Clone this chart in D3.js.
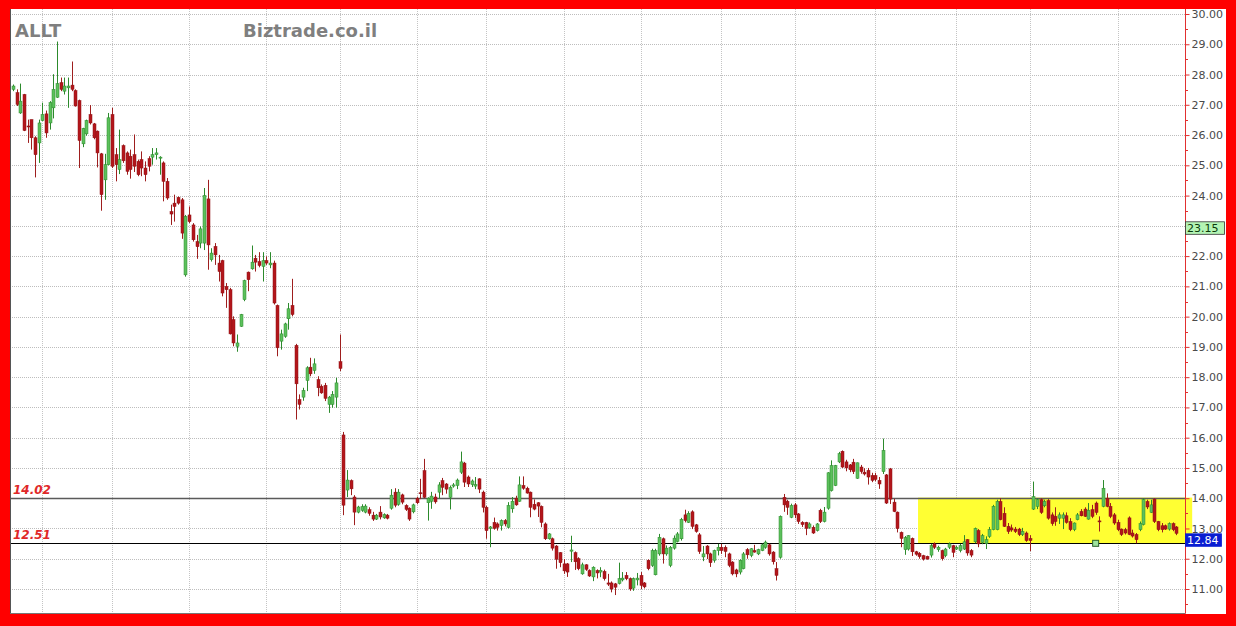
<!DOCTYPE html>
<html><head><meta charset="utf-8">
<script src="https://cdn.jsdelivr.net/npm/d3@7/dist/d3.min.js"></script>
<style>html,body{margin:0;padding:0;background:#fff}svg{display:block}</style>
</head><body>
<svg id="c" width="1236" height="626"></svg>
<script>
const symbol = "ALLT";
const source = "Biztrade.co.il";
const open = [27.51,27.40,26.73,27.34,26.30,26.51,25.91,25.74,26.48,26.70,26.40,26.90,27.25,27.73,27.45,27.56,27.65,27.47,27.14,25.71,26.04,26.68,26.37,26.13,25.38,24.52,25.02,26.68,25.35,24.86,25.65,25.41,25.30,25.35,25.13,25.19,24.91,25.22,25.27,25.35,25.24,25.08,24.47,23.47,23.75,23.94,23.86,21.38,23.36,23.03,22.48,22.43,22.43,23.89,21.88,22.32,21.77,21.85,21.00,20.89,19.90,19.02,19.68,20.56,21.47,21.58,21.93,21.82,21.66,21.85,21.71,21.77,20.37,19.19,19.35,19.93,20.37,19.05,17.26,17.34,17.89,18.33,18.22,17.92,17.70,17.73,17.10,17.10,17.34,18.51,16.09,14.27,14.58,14.04,13.54,13.60,13.54,13.62,13.44,13.31,13.54,13.35,13.44,13.67,14.20,13.80,14.11,13.76,13.67,13.55,14.00,14.18,14.91,13.85,13.90,14.04,14.20,14.58,14.47,14.03,14.40,14.42,14.86,15.16,14.70,14.45,14.40,14.64,14.20,13.70,13.00,13.20,13.15,13.10,13.26,13.04,13.65,14.00,13.90,14.42,14.33,14.20,13.80,13.85,13.73,13.15,12.66,12.66,12.42,12.20,11.83,11.83,12.25,12.20,12.00,11.50,11.80,11.61,11.40,11.61,11.56,11.58,11.20,11.20,11.17,11.18,11.30,11.45,11.34,11.03,11.30,11.45,11.20,11.95,11.78,11.47,12.16,12.66,12.16,11.78,12.35,12.57,12.66,13.45,13.20,13.55,13.12,12.79,12.06,12.42,12.16,11.95,12.27,12.38,12.38,12.16,11.89,11.63,11.56,11.67,12.30,12.11,12.27,12.16,12.27,12.38,12.46,12.22,11.67,12.05,14.03,13.90,13.37,13.78,13.48,13.20,13.20,13.04,13.04,12.93,13.60,13.23,13.67,14.25,14.42,15.20,15.55,15.20,15.10,15.19,14.66,15.03,14.86,14.92,14.75,14.75,14.59,14.88,14.77,14.97,13.87,13.54,12.87,12.30,12.32,12.67,12.23,12.18,12.10,12.08,12.12,12.49,12.30,12.27,12.10,12.38,12.43,12.32,12.27,12.32,12.63,12.27,12.56,12.93,12.54,12.50,12.74,12.96,12.96,13.89,13.50,13.07,13.02,12.98,12.98,12.80,12.85,12.67,13.64,13.73,13.95,13.75,13.92,13.45,13.40,13.34,13.34,13.42,13.23,12.96,13.29,13.56,13.64,13.31,13.62,13.84,13.25,13.73,14.00,13.73,13.45,13.20,12.98,12.96,13.35,12.85,12.80,12.96,13.13,13.89,13.53,13.97,13.23,13.09,13.09,12.98,13.16,13.05];
const high = [27.67,27.51,27.70,27.36,26.51,26.51,25.96,26.51,27.07,26.81,27.12,28.01,29.09,27.90,27.90,27.90,28.43,27.51,27.17,26.24,26.51,26.99,26.40,26.15,25.41,25.38,26.73,26.90,25.57,26.18,25.69,25.46,25.52,26.02,25.19,25.46,25.13,25.30,25.57,25.57,25.30,25.13,24.58,23.70,24.03,23.97,23.92,23.36,23.64,23.09,22.70,22.98,24.25,24.52,22.26,22.43,22.04,21.88,21.11,20.95,20.01,19.41,20.09,21.22,21.49,22.35,22.04,22.13,22.13,21.99,22.13,21.85,20.40,19.57,19.80,20.45,21.25,19.10,17.43,17.65,18.36,18.64,18.62,18.03,17.76,17.81,17.38,17.54,17.98,19.41,16.19,14.93,14.62,14.10,13.75,13.80,13.80,13.70,13.55,13.48,13.74,13.50,13.48,14.30,14.33,14.30,14.15,13.80,13.70,13.82,14.05,14.64,15.30,14.03,14.21,14.15,14.53,14.67,14.50,14.42,14.50,14.65,15.54,15.20,14.75,14.62,14.70,14.66,14.25,13.75,13.08,13.36,13.20,13.30,13.31,13.87,14.04,14.08,14.72,14.72,14.38,14.22,13.96,13.87,13.76,13.20,12.85,12.70,12.45,12.22,11.99,11.86,12.76,12.24,12.05,11.87,11.82,11.65,11.75,11.65,11.72,11.64,11.50,11.25,11.20,11.87,11.56,11.56,11.38,11.38,11.53,11.56,11.23,11.98,12.33,12.33,12.82,12.70,12.44,12.42,12.77,12.88,13.35,13.62,13.57,13.60,13.15,12.85,12.42,12.45,12.20,12.30,12.49,12.49,12.44,12.20,11.92,11.67,11.98,12.22,12.35,12.35,12.46,12.33,12.50,12.60,12.50,12.25,11.89,13.43,14.14,13.95,13.82,13.84,13.51,13.24,13.22,13.20,13.10,13.18,13.65,13.71,14.86,15.25,15.10,15.53,15.58,15.27,15.13,15.30,15.18,15.10,14.99,15.00,14.84,14.84,14.70,15.97,14.80,15.00,13.98,13.56,12.90,12.75,12.78,12.70,12.26,12.22,12.13,12.10,12.49,12.54,12.43,12.30,12.36,12.54,12.46,12.43,12.49,12.78,12.65,12.32,13.03,12.98,12.82,12.74,13.05,13.78,13.95,14.00,13.70,13.18,13.13,13.05,13.02,13.02,12.90,12.78,14.55,14.00,14.00,13.95,13.97,13.53,13.70,13.53,13.53,13.53,13.34,13.20,13.51,13.64,13.70,13.84,13.78,13.89,13.40,14.60,14.16,13.84,13.51,13.29,13.00,13.02,13.40,12.96,12.85,13.23,14.00,13.95,13.95,14.00,13.25,13.18,13.13,13.20,13.20,13.08];
const low = [27.45,26.96,26.70,26.13,25.74,25.52,24.60,25.08,26.46,25.91,26.18,26.55,27.23,27.45,27.34,26.90,27.45,26.94,24.91,25.60,25.98,26.35,25.86,24.93,23.50,23.86,25.00,24.91,24.47,24.71,25.08,24.69,24.56,24.78,24.64,24.64,24.47,24.80,25.02,25.19,24.69,23.81,23.86,23.03,23.14,23.70,22.57,21.32,23.09,22.48,21.91,22.26,22.20,21.55,21.82,21.71,21.16,20.67,20.29,19.41,19.02,18.84,19.66,20.51,20.84,21.55,21.49,21.63,21.16,21.71,21.60,20.40,18.69,18.91,19.30,19.57,20.01,16.60,16.93,17.22,17.54,18.03,18.11,17.37,17.45,17.21,16.82,16.99,16.99,18.20,13.44,14.04,14.10,13.11,13.50,13.55,13.50,13.42,13.25,13.28,13.30,13.32,13.30,13.62,13.70,13.75,13.80,13.58,13.25,13.50,13.80,13.97,14.00,13.26,13.65,13.82,13.99,14.10,14.15,13.63,14.35,14.30,14.80,14.37,14.37,14.37,14.30,14.17,13.53,12.66,12.38,12.96,12.93,12.93,13.07,13.00,13.52,13.75,13.88,14.28,14.15,13.37,13.60,13.38,13.04,12.62,12.63,12.27,11.67,11.72,11.50,11.40,11.89,11.63,11.62,11.47,11.60,11.40,11.26,11.35,11.39,11.28,11.10,10.89,10.80,11.15,11.25,11.29,10.94,10.94,11.12,11.00,11.02,11.62,11.73,11.45,12.10,11.84,12.10,11.72,12.30,12.54,12.60,13.20,13.18,12.98,12.86,12.16,11.92,11.99,11.73,11.87,12.11,12.16,12.05,11.72,11.45,11.39,11.48,11.65,12.00,12.05,12.20,12.12,12.25,12.33,12.10,11.81,11.28,12.00,13.55,13.45,13.34,13.34,13.15,13.05,12.78,12.99,12.82,12.90,13.18,13.20,13.62,14.22,14.40,15.16,15.00,14.89,14.86,14.80,14.64,14.81,14.75,14.45,14.53,14.56,14.31,14.80,13.81,13.81,13.54,12.87,12.38,12.13,12.27,12.09,12.10,12.00,11.94,11.97,12.04,12.32,12.23,11.94,12.05,12.32,12.05,12.29,12.21,12.29,12.10,12.05,12.51,12.38,12.48,12.32,12.69,12.94,12.94,13.27,13.05,12.82,12.89,12.85,12.75,12.75,12.56,12.25,13.61,13.64,13.48,13.70,13.29,13.09,13.09,13.15,12.98,13.16,12.91,12.91,13.27,13.40,13.38,13.29,13.34,13.45,12.90,13.70,13.70,13.34,13.12,12.91,12.75,12.80,12.78,12.70,12.51,12.91,13.10,13.64,13.51,13.18,12.91,12.87,12.95,12.93,12.91,12.78];
const close = [27.62,27.01,27.12,26.15,26.27,25.91,25.35,26.40,26.68,26.07,27.07,27.51,27.70,27.51,27.62,27.62,27.51,26.96,25.82,26.22,26.48,26.40,25.91,25.41,24.03,25.02,26.57,24.97,25.02,25.19,25.15,24.80,24.86,24.97,24.69,24.91,24.69,24.97,25.35,25.41,25.27,24.47,23.92,23.39,23.64,23.75,22.76,23.31,23.14,22.54,22.31,22.90,24.00,22.37,22.10,22.04,21.49,20.78,20.89,19.43,19.13,19.13,20.07,21.19,21.22,21.80,21.80,21.69,21.85,21.77,21.77,20.45,18.97,19.43,19.76,20.26,20.07,17.78,17.10,17.56,18.31,18.11,18.44,17.65,17.48,17.30,17.34,17.43,17.81,18.29,13.77,14.60,14.31,13.54,13.71,13.72,13.74,13.50,13.31,13.44,13.38,13.46,13.34,14.10,13.77,14.20,13.87,13.63,13.31,13.78,13.85,14.15,14.03,14.00,14.07,13.88,14.44,14.36,14.30,14.36,14.44,14.60,15.20,14.53,14.47,14.57,14.45,14.30,13.70,12.93,13.05,13.00,13.04,13.26,13.15,13.76,13.90,13.78,14.44,14.33,14.17,13.70,13.64,13.74,13.20,12.66,12.82,12.35,11.98,11.87,11.60,11.56,12.29,11.90,11.67,11.80,11.65,11.43,11.72,11.53,11.62,11.34,11.16,11.00,11.06,11.34,11.36,11.34,11.00,11.34,11.36,11.12,11.07,11.67,12.27,12.27,12.71,12.16,12.35,12.38,12.68,12.82,13.30,13.26,13.50,13.07,12.90,12.24,12.16,12.16,11.87,12.27,12.38,12.27,12.24,11.78,11.50,11.50,11.95,12.16,12.13,12.33,12.22,12.30,12.46,12.55,12.16,11.90,11.45,13.40,13.78,13.70,13.76,13.45,13.23,13.13,13.00,13.15,12.85,13.15,13.23,13.54,14.84,15.08,15.08,15.47,15.03,15.00,14.94,14.88,15.17,14.88,14.80,14.70,14.59,14.62,14.47,15.58,13.84,13.97,13.56,13.00,12.67,12.70,12.76,12.23,12.15,12.07,11.99,11.99,12.43,12.38,12.38,12.00,12.32,12.49,12.21,12.38,12.43,12.56,12.19,12.12,13.00,12.49,12.76,12.63,12.96,13.73,13.89,13.29,13.07,12.90,12.95,12.90,12.80,12.90,12.60,12.60,14.05,13.95,13.53,13.89,13.34,13.16,13.23,13.45,13.45,13.20,12.96,13.18,13.45,13.42,13.40,13.60,13.40,13.53,13.22,14.33,13.73,13.40,13.18,12.96,12.80,12.85,12.80,12.75,12.63,13.16,13.95,13.71,13.78,13.23,12.96,12.96,12.98,13.16,12.96,12.84];
const priceTicks = [11,12,13,14,15,16,17,18,19,20,21,22,23,24,25,26,27,28,29,30];
const monthStarts = [8,27,48,69,89,110,129,150,171,193,213,235,257,277,301];
const levels = [14.02, 12.51];
const levelColors = ["#5a5a5a", "#000000"];
const zone = {from: 246.6, to: 321.3, top: 14.02, bottom: 12.51};
const markerIndex = 295, markerPrice = 12.51;
const sideLabels = [{v: 23.15, fill: "#b4f4b4", stroke: "#333", text: "#0a3a0a"}, {v: 12.84, fill: "#0a1ed2", stroke: "#0a1ed2", text: "#ffffff"}];

const n = close.length;
const svg = d3.select("#c");
const W = 1236, H = 626;
const L = 10, R = 1185.5, T = 9, B = 613.5;

const x = d3.scaleLinear().domain([0, n - 1]).range([13, 1176.4]);
const y = d3.scaleLinear().domain([11, 30]).range([589, 14]);

// frame
svg.append("rect").attr("width", W).attr("height", H).attr("fill", "#ff0000");
svg.append("rect").attr("x", L).attr("y", T).attr("width", 1226 - L).attr("height", B - T + 0.5).attr("fill", "#ffffff");

// grid
const g = svg.append("g");
g.selectAll("line.hg").data(priceTicks).join("line")
  .attr("x1", L).attr("x2", R).attr("y1", d => Math.round(y(d)) + 0.5).attr("y2", d => Math.round(y(d)) + 0.5)
  .attr("stroke", "#bdbdbd").attr("stroke-dasharray", "1,1");
g.selectAll("line.vg").data(monthStarts).join("line")
  .attr("x1", d => Math.round(x(d)) + 0.5).attr("x2", d => Math.round(x(d)) + 0.5).attr("y1", T).attr("y2", B)
  .attr("stroke", "#c4c4c4").attr("stroke-dasharray", "1,1");

// yellow zone
svg.append("rect").attr("x", x(zone.from)).attr("y", y(zone.top)).attr("width", x(zone.to) - x(zone.from))
  .attr("height", y(zone.bottom) - y(zone.top)).attr("fill", "#ffff33");

// level lines
svg.selectAll("line.lv").data(levels).join("line")
  .attr("x1", L).attr("x2", R).attr("y1", d => Math.round(y(d)) + 0.5).attr("y2", d => Math.round(y(d)) + 0.5)
  .attr("stroke", (d, i) => levelColors[i]).attr("stroke-width", (d, i) => i === 0 ? 1.3 : 1);
svg.selectAll("text.lv").data(levels).join("text")
  .attr("x", 13).attr("y", d => y(d) - 4)
  .attr("font-family", "DejaVu Sans").attr("font-size", 12).attr("font-weight", "bold").attr("font-style", "italic")
  .attr("fill", "#e02828").text(d => d.toFixed(2));

// titles
svg.append("text").attr("x", 15).attr("y", 37).attr("font-family", "DejaVu Sans").attr("font-weight", "bold")
  .attr("font-size", 18).attr("fill", "#7f7f7f").text(symbol);
svg.append("text").attr("x", 243).attr("y", 37).attr("font-family", "DejaVu Sans").attr("font-weight", "bold")
  .attr("font-size", 18).attr("fill", "#7f7f7f").text(source);

// candles
const idx = d3.range(n);
const up = i => close[i] >= open[i];
const cg = svg.append("g");
cg.selectAll("line.wick").data(idx).join("line")
  .attr("x1", i => Math.round(x(i)) + 0.5).attr("x2", i => Math.round(x(i)) + 0.5)
  .attr("y1", i => y(high[i])).attr("y2", i => y(low[i]))
  .attr("stroke", i => up(i) ? "#2c8a2c" : "#9e1e1e").attr("stroke-width", 1);
cg.selectAll("rect.body").data(idx).join("rect")
  .attr("x", i => Math.round(x(i)) - 1)
  .attr("y", i => y(Math.max(open[i], close[i])))
  .attr("width", 3)
  .attr("height", i => Math.max(1, Math.abs(y(open[i]) - y(close[i]))))
  .attr("fill", i => up(i) ? "#5cc05c" : "#b3161b")
  .attr("stroke", i => up(i) ? "#2c8a2c" : "#8e1014").attr("stroke-width", 0.5);

// marker
svg.append("rect").attr("x", x(markerIndex) - 3).attr("y", y(markerPrice) - 3).attr("width", 6).attr("height", 6)
  .attr("fill", "#9ee39e").attr("stroke", "#2a5e2a").attr("stroke-width", 1);

// plot borders
svg.append("line").attr("x1", L + 0.5).attr("x2", L + 0.5).attr("y1", T).attr("y2", B).attr("stroke", "#555");
svg.append("line").attr("x1", L).attr("x2", R).attr("y1", B).attr("y2", B).attr("stroke", "#777");

// right axis (tick labels hidden where a price box covers them)
const covered = t => sideLabels.some(s => Math.abs(y(t) - (y(s.v) + 7)) < 9);
const axis = d3.axisRight(y).tickValues(priceTicks).tickFormat(d3.format(".2f")).tickSize(4).tickPadding(2);
const ag = svg.append("g").attr("transform", `translate(${R},0)`).call(axis);
ag.select(".domain").remove();
ag.selectAll(".tick line").attr("stroke", "#e23030");
ag.selectAll(".tick text").attr("font-family", "DejaVu Sans").attr("font-size", 11).attr("fill", "#4a4a4a")
  .style("display", d => covered(d) ? "none" : null);
const minor = d3.range(10.5, 30.01, 0.5).filter(v => !priceTicks.includes(v));
svg.selectAll("line.minor").data(minor).join("line")
  .attr("x1", R).attr("x2", R + 2.5).attr("y1", d => Math.round(y(d)) + 0.5).attr("y2", d => Math.round(y(d)) + 0.5)
  .attr("stroke", "#e23030");
svg.append("line").attr("x1", R).attr("x2", R).attr("y1", T).attr("y2", B).attr("stroke", "#e23030");

// side price labels
const sl = svg.selectAll("g.sl").data(sideLabels).join("g");
sl.append("rect").attr("x", R).attr("y", d => y(d.v) + 0.5).attr("width", d => d.v > 20 ? 39 : 36).attr("height", 12.5)
  .attr("fill", d => d.fill).attr("stroke", d => d.stroke).attr("stroke-width", 0.8);
sl.append("text").attr("x", R + 1.5).attr("y", d => y(d.v) + 11).attr("font-family", "DejaVu Sans").attr("font-size", 11)
  .attr("fill", d => d.text).text(d => d.v.toFixed(2));
</script>
</body></html>
